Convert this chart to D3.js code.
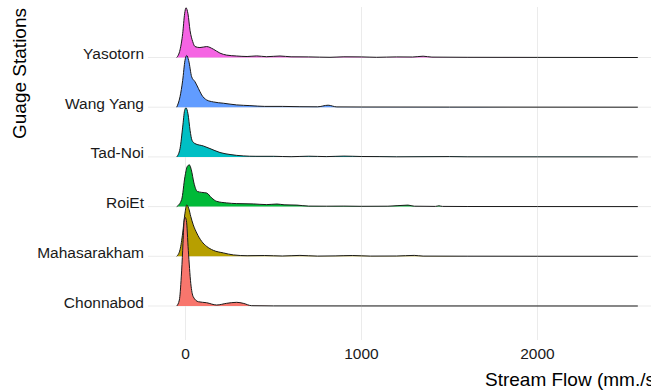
<!DOCTYPE html>
<html>
<head>
<meta charset="utf-8">
<script src="https://cdn.jsdelivr.net/npm/d3@7"></script>
<style>
  body { margin: 0; background: #fff; }
  svg { display: block; }
</style>
</head>
<body>
<script>
const width = 651;
const height = 391;

// stations, top row first
const stations = ["Yasotorn", "Wang Yang", "Tad-Noi", "RoiEt", "Mahasarakham", "Chonnabod"];
const colors = ["#F564E3", "#619CFF", "#00BFC4", "#00BA38", "#B79F00", "#F8766D"];
const xTicks = [0, 1000, 2000];

// density curves: flow (mm./s) and relative height (1 = one row)
const flowYasotorn = [-50, -31, -16, -5, 3, 14, 26, 41, 54, 82, 120, 158, 196, 234, 291, 350, 405, 460, 537, 600, 700, 821, 900, 1000, 1086, 1200, 1290, 1350, 1400, 1600, 2000, 2570];
const densYasotorn = [0, .154, .48, .88, 1.0, .88, .54, .32, .22, .20, .22, .168, .088, .048, .03, .02, .032, .016, .03, .014, .012, .004, .014, .012, .004, .012, .01, .026, .008, .004, .002, 0];

const flowWangYang = [-50, -31, -16, -3, 7, 18, 35, 54, 73, 92, 120, 158, 215, 291, 366, 450, 550, 650, 750, 810, 860, 1000, 1500, 2570];
const densWangYang = [0, .212, .54, .94, 1.04, .94, .612, .512, .38, .246, .146, .106, .08, .046, .032, .016, .016, .01, .008, .04, .006, .004, .002, 0];

const flowTadNoi = [-50, -31, -16, -5, 3, 14, 26, 37, 54, 101, 139, 196, 253, 328, 400, 500, 600, 700, 800, 900, 1000, 1100, 1200, 1500, 1600, 2000, 2570];
const densTadNoi = [0, .168, .6, .934, .988, .868, .534, .334, .268, .22, .168, .088, .048, .02, .012, .012, .004, .014, .006, .016, .008, .006, .002, .006, .002, .001, 0];

const flowRoiEt = [-50, -22, -3, 10, 22, 33, 48, 67, 92, 120, 149, 177, 234, 291, 385, 461, 520, 560, 633, 700, 800, 900, 1000, 1150, 1264, 1300, 1420, 1440, 1460, 1600, 2000, 2570];
const densRoiEt = [0, .14, .606, .806, .84, .74, .474, .306, .286, .274, .174, .106, .074, .06, .054, .04, .052, .036, .03, .01, .008, .01, .006, .008, .03, .008, .004, .016, .004, .002, .001, 0];

const flowMahasarakham = [-50, -31, -16, -3, 7, 18, 30, 44, 64, 92, 120, 158, 215, 272, 350, 450, 550, 650, 750, 850, 950, 1050, 1200, 1300, 1350, 1600, 2000, 2570];
const densMahasarakham = [0, .134, .468, .868, 1.034, .968, .8, .634, .468, .3, .2, .12, .068, .028, .012, .016, .006, .018, .004, .008, .016, .004, .006, .018, .004, .002, .001, 0];

const flowChonnabod = [-50, -35, -24, -16, -9, -3, 5, 16, 30, 44, 73, 120, 177, 234, 291, 328, 376, 500, 1000, 2570];
const densChonnabod = [0, .12, .586, 1.12, 1.654, 1.786, 1.72, 1.12, .454, .186, .086, .066, .02, .054, .074, .054, .006, .002, .001, 0];

const flows = [flowYasotorn, flowWangYang, flowTadNoi, flowRoiEt, flowMahasarakham, flowChonnabod];
const dens = [densYasotorn, densWangYang, densTadNoi, densRoiEt, densMahasarakham, densChonnabod];

const panelLeft = 148;
const panelTop = 7;
const panelBottom = 340;

const svg = d3.select("body")
    .append("svg")
    .attr("width", width)
    .attr("height", height)
    .style("font-family", "'Liberation Sans', Arial, sans-serif");

// x scale: 0 -> 185.5, 1000 -> 361.5
const xScale = d3.scaleLinear()
    .domain([0, 1000])
    .range([185.5, 361.5]);

const yScale = d3.scalePoint()
    .domain(stations)
    .range([57.5, 306]);

const step = yScale.step();
const hScale = d3.scaleLinear()
    .domain([0, 1])
    .range([0, step]);

// grid
svg.append("g")
    .selectAll("line")
    .data(xTicks)
    .join("line")
    .attr("x1", d => xScale(d))
    .attr("x2", d => xScale(d))
    .attr("y1", panelTop)
    .attr("y2", panelBottom)
    .attr("stroke", "#ebebeb")
    .attr("stroke-width", 1);

svg.append("g")
    .selectAll("line")
    .data(stations)
    .join("line")
    .attr("x1", panelLeft)
    .attr("x2", width)
    .attr("y1", d => yScale(d))
    .attr("y2", d => yScale(d))
    .attr("stroke", "#ebebeb")
    .attr("stroke-width", 1);

// ridges, top row first so lower rows sit on top
stations.forEach((s, i) => {
    const pts = flows[i].map((f, j) => [f, dens[i][j]]);
    const base = yScale(s);

    const area = d3.area()
        .x(d => xScale(d[0]))
        .y0(base)
        .y1(d => base - hScale(d[1]))
        .curve(d3.curveMonotoneX);

    const line = d3.line()
        .x(d => xScale(d[0]))
        .y(d => base - hScale(d[1]))
        .curve(d3.curveMonotoneX);

    svg.append("path")
        .datum(pts)
        .attr("fill", colors[i])
        .attr("d", area);

    svg.append("path")
        .datum(pts)
        .attr("fill", "none")
        .attr("stroke", "#1a1a1a")
        .attr("stroke-width", 1)
        .attr("d", line);
});

// y labels
svg.append("g")
    .selectAll("text")
    .data(stations)
    .join("text")
    .attr("x", 144)
    .attr("y", d => yScale(d) + 1.5)
    .attr("text-anchor", "end")
    .attr("font-size", "15.5px")
    .attr("fill", "#1a1a1a")
    .text(d => d);

// x labels
svg.append("g")
    .selectAll("text")
    .data(xTicks)
    .join("text")
    .attr("x", d => xScale(d))
    .attr("y", 359)
    .attr("text-anchor", "middle")
    .attr("font-size", "15.5px")
    .attr("fill", "#1a1a1a")
    .text(d => d);

// axis titles (the x title runs past the right edge, as in the source)
svg.append("text")
    .attr("x", 485)
    .attr("y", 386)
    .attr("font-size", "19px")
    .attr("fill", "#000")
    .text("Stream Flow (mm./s)");

svg.append("text")
    .attr("transform", "translate(26," + 8 + ") rotate(-90)")
    .attr("text-anchor", "end")
    .attr("font-size", "19px")
    .attr("fill", "#000")
    .text("Guage Stations");
</script>
</body>
</html>
